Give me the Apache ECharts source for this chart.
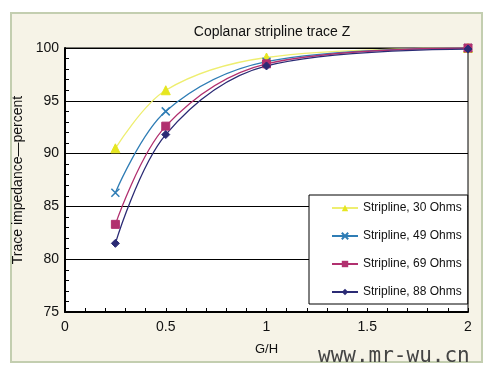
<!DOCTYPE html>
<html>
<head>
<meta charset="UTF-8" />
<title>Coplanar stripline trace Z</title>
<style type="text/css">
	* { margin: 0; padding: 0; }
	body { background: #fff; }
	#main { width: 488px; height: 376px; }
</style>
</head>
<body>
<div id="main"></div>
<script src="https://cdn.jsdelivr.net/npm/echarts@6/dist/echarts.min.js"></script>
<script type="text/javascript">
	// G/H ratio at which each curve was measured
	var gh = [0.25, 0.5, 1, 2]
	var names = ['Stripline, 30 Ohms', 'Stripline, 49 Ohms', 'Stripline, 69 Ohms', 'Stripline, 88 Ohms']
	var ohm30 = [90.5, 96.0, 99.1, 100]
	var ohm49 = [86.3, 94.0, 98.7, 100]
	var ohm69 = [83.3, 92.6, 98.5, 100]
	var ohm88 = [81.5, 91.8, 98.3, 99.9]

	var font = "'Liberation Sans', Arial, sans-serif"
	var myChart = echarts.init(document.getElementById('main'))

	function pairs(ys) {
		return gh.map(function (x, i) { return [x, ys[i]] })
	}

	function line(name, ys, color, lineColor, symbol, size) {
		return {
			name: name,
			type: 'line',
			smooth: 0.35,
			data: pairs(ys),
			symbol: symbol,
			symbolSize: size,
			lineStyle: { color: lineColor, width: 1.3 },
			itemStyle: { color: color, borderColor: color },
			emphasis: { disabled: true }
		}
	}

	var option = {
		backgroundColor: '#fff',
		animation: false,
		textStyle: { fontFamily: font },
		graphic: [{
			type: 'rect',
			z: -10,
			shape: { x: 11, y: 13, width: 471, height: 349 },
			style: { fill: '#f6f3e7', stroke: '#c3ceb0', lineWidth: 2 }
		}, {
			type: 'rect',
			z: -5,
			shape: { x: 65, y: 48, width: 403, height: 264 },
			style: { fill: '#fff', stroke: '#000', lineWidth: 1 }
		}, {
			type: 'text',
			left: 318,
			top: 346,
			style: { text: 'www.mr-wu.cn', font: '21px "DejaVu Sans Mono", monospace', fill: '#444' }
		}],
		title: {
			text: 'Coplanar stripline trace Z',
			left: 267,
			textAlign: 'center',
			top: 20,
			textStyle: { fontFamily: font, fontSize: 14, fontWeight: 'normal', color: '#111' }
		},
		legend: {
			orient: 'vertical',
			left: 309,
			top: 195,
			width: 160,
			itemGap: 16,
			itemWidth: 26,
			itemHeight: 8,
			padding: [7, 6, 6, 22],
			backgroundColor: '#fff',
			borderColor: '#000',
			borderWidth: 1,
			borderRadius: 0,
			textStyle: { fontFamily: font, fontSize: 12, color: '#111' },
			data: names
		},
		grid: { left: 65, right: 20, top: 48, bottom: 64 },
		xAxis: {
			type: 'value',
			min: 0,
			max: 2,
			interval: 0.5,
			name: 'G/H',
			nameLocation: 'middle',
			nameGap: 31,
			nameTextStyle: { fontFamily: font, fontSize: 13, color: '#111' },
			axisLine: { show: true, lineStyle: { color: '#000', width: 2 } },
			axisTick: { show: true, inside: true, length: 4, lineStyle: { color: '#000' } },
			minorTick: { show: true, splitNumber: 5, length: 4, lineStyle: { color: '#000' } },
			axisLabel: { color: '#111', fontSize: 14, margin: 8 },
			splitLine: { show: false }
		},
		yAxis: {
			type: 'value',
			min: 75,
			max: 100,
			interval: 5,
			name: 'Trace impedance\u2014percent',
			nameLocation: 'middle',
			nameGap: 32,
			nameTextStyle: { fontFamily: font, fontSize: 14, color: '#111' },
			axisLine: { show: true, lineStyle: { color: '#000', width: 2 } },
			axisTick: { show: true, inside: true, length: 4, lineStyle: { color: '#000' } },
			minorTick: { show: true, splitNumber: 5, length: 4, lineStyle: { color: '#000' } },
			axisLabel: { color: '#111', fontSize: 14, margin: 6 },
			splitLine: { show: true, lineStyle: { color: '#000', width: 1 } }
		},
		series: [
			line(names[0], ohm30, '#e6e620', '#eeee70', 'triangle', 9),
			line(names[1], ohm49, '#2f7db5', '#2f7db5', 'path://M0,0L10,10M10,0L0,10', 8),
			line(names[2], ohm69, '#b1306f', '#b1306f', 'rect', 8),
			line(names[3], ohm88, '#2b2b75', '#2b2b75', 'diamond', 8)
		]
	}
	// the cross marker needs a stroke, not a fill
	option.series[1].itemStyle = { color: 'transparent', borderColor: '#2f7db5', borderWidth: 1.5 }
	myChart.setOption(option)
</script>
</body>
</html>
